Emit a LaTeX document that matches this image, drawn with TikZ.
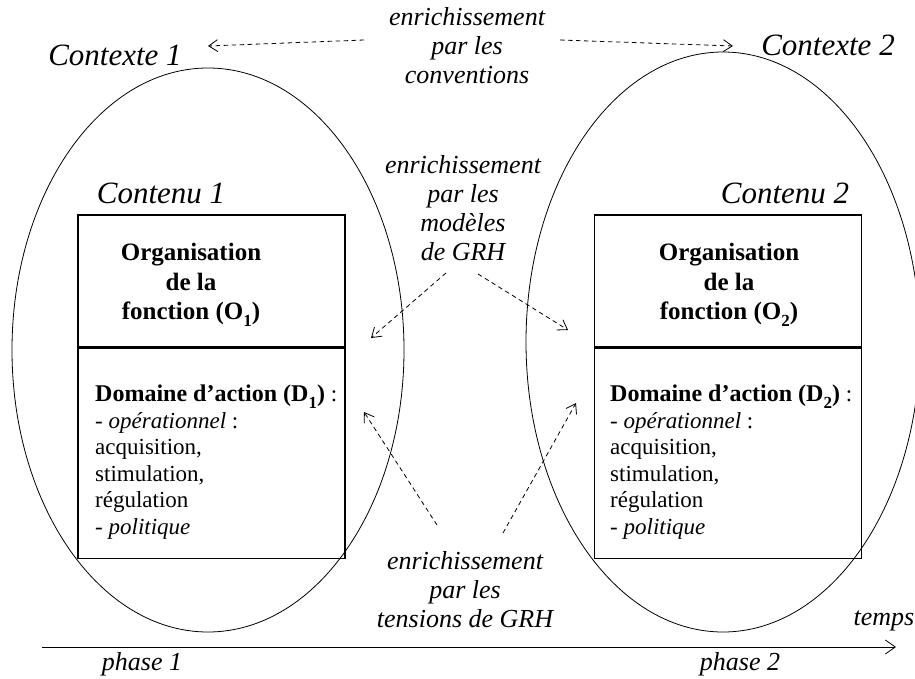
\documentclass[tikz,border=0pt]{standalone}
\usepackage{fontspec}
\setmainfont{Liberation Serif}
\usetikzlibrary{arrows.meta,positioning}

% lowered index, as in the original figure
\newcommand{\lowidx}[1]{\raisebox{-0.28em}{\fontsize{17}{17}\selectfont #1}}

\begin{document}
\begin{tikzpicture}[
    x=1pt, y=-1pt,
    lbl/.style={font=\fontsize{26}{29}\selectfont\itshape, align=center, inner sep=0pt},
    ttl/.style={font=\fontsize{31}{34}\selectfont\itshape, inner sep=0pt, anchor=base},
    orgtext/.style={font=\fontsize{25}{29.5}\selectfont\bfseries, align=center, inner sep=0pt},
    domtext/.style={font=\fontsize{23}{26.5}\selectfont, align=left, inner sep=0pt, anchor=north west},
    box/.style={rectangle, draw, line width=1.2pt, minimum width=267pt, inner sep=0pt},
    dasharrow/.style={-{Straight Barb[length=9pt,width=12pt]}, dash pattern=on 4.5pt off 3.5pt, line width=0.8pt},
    axis/.style={-{Straight Barb[length=10pt,width=14pt]}, line width=0.8pt}
]
\useasboundingbox (0,0) rectangle (915,679);

% the two phases
\draw[line width=0.8pt] (208,350) ellipse [x radius=196, y radius=282];
\draw[line width=0.8pt] (723,342) ellipse [x radius=197, y radius=290];

% contents
\node[box, minimum height=132pt] (org1) at (211.5,281) {};
\node[box, minimum height=210pt, below=0pt of org1] (dom1) {};
\node[box, minimum height=132pt] (org2) at (728,281) {};
\node[box, minimum height=210pt, below=0pt of org2] (dom2) {};

\node[orgtext] (orgtxt1) at (191,285) {Organisation\\de la\\fonction (O\lowidx{1})};
\node[orgtext] (orgtxt2) at (729,285) {Organisation\\de la\\fonction (O\lowidx{2})};
\node[domtext] (domtxt1) at (95,385) {{\fontsize{24}{26.5}\selectfont\bfseries Domaine d'action (D\lowidx{1})} :\\- \textit{opérationnel} :\\acquisition,\\stimulation,\\régulation\\- \textit{politique}};
\node[domtext] (domtxt2) at (610,385) {{\fontsize{24}{26.5}\selectfont\bfseries Domaine d'action (D\lowidx{2})} :\\- \textit{opérationnel} :\\acquisition,\\stimulation,\\régulation\\- \textit{politique}};

% titles
\node[ttl] (ctx1) at (115,66) {Contexte 1};
\node[ttl] (ctx2) at (828,56) {Contexte 2};
\node[ttl] (cnt1) at (161,204) {Contenu 1};
\node[ttl] (cnt2) at (785,204) {Contenu 2};

% enrichments
\node[lbl] (conv) at (467,46) {enrichissement\\par les\\conventions};
\node[lbl] (mod) at (463,208) {enrichissement\\par les\\modèles\\de GRH};
\node[lbl] (tens) at (465,590) {enrichissement\\par les\\tensions de GRH};

\coordinate (convL) at (364,40);
\coordinate (convLe) at (208,46);
\coordinate (convR) at (560,40);
\coordinate (convRe) at (733,46);
\coordinate (modL) at (446,273);
\coordinate (modLe) at (371,338);
\coordinate (modR) at (478,274);
\coordinate (modRe) at (568,330);
\coordinate (tensL) at (437,525);
\coordinate (tensLe) at (364,412);
\coordinate (tensR) at (503,533);
\coordinate (tensRe) at (576,403);

\draw[dasharrow] (convL) -- (convLe);
\draw[dasharrow] (convR) -- (convRe);
\draw[dasharrow] (modL) -- (modLe);
\draw[dasharrow] (modR) -- (modRe);
\draw[dasharrow] (tensL) -- (tensLe);
\draw[dasharrow] (tensR) -- (tensRe);

% time axis
\coordinate (t0) at (42,647);
\coordinate (t1) at (896,647);
\draw[axis] (t0) -- (t1);
\node[lbl] (temps) at (884,621) {temps};
\node[lbl] (ph1) at (142,664) {phase 1};
\node[lbl] (ph2) at (740,664) {phase 2};
\end{tikzpicture}
\end{document}
